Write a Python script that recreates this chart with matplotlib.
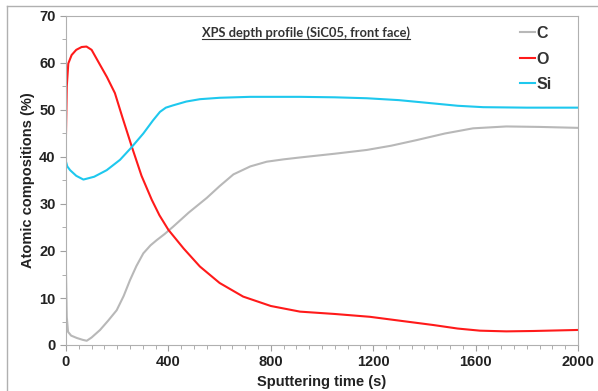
import matplotlib.pyplot as plt
from matplotlib.lines import Line2D
from matplotlib.ticker import MultipleLocator

# sputtering time (s) and atomic compositions (%) read from the profile
t_c = [0, 3, 8, 20, 42, 65, 81, 100, 133, 165, 198, 225, 250, 275, 302, 330, 354, 385, 419, 480, 550, 600, 654, 720, 784, 850, 914, 1050, 1175, 1270, 1370, 1480, 1590, 1720, 1850, 2000]
c_vals = [15.6, 6.0, 2.8, 2.0, 1.5, 1.1, 0.9, 1.6, 3.2, 5.2, 7.4, 10.4, 13.8, 16.8, 19.5, 21.2, 22.3, 23.6, 25.2, 28.2, 31.3, 33.8, 36.3, 38.0, 39.0, 39.5, 39.9, 40.7, 41.5, 42.4, 43.6, 45.0, 46.1, 46.5, 46.4, 46.2]

t_o = [0, 3, 9, 22, 40, 61, 80, 100, 133, 160, 191, 220, 257, 295, 335, 365, 400, 460, 523, 600, 692, 800, 914, 1050, 1187, 1300, 1435, 1530, 1617, 1720, 1825, 2000]
o_vals = [45.0, 55.0, 59.9, 61.7, 62.8, 63.4, 63.5, 62.8, 59.6, 57.0, 53.6, 48.5, 42.2, 36.0, 30.9, 27.6, 24.5, 20.5, 16.7, 13.2, 10.3, 8.3, 7.1, 6.6, 6.0, 5.2, 4.25, 3.5, 3.05, 2.9, 2.98, 3.2]

t_si = [0, 5, 16, 40, 68, 110, 159, 211, 255, 302, 340, 367, 390, 419, 470, 523, 600, 719, 914, 1050, 1175, 1300, 1435, 1530, 1630, 1800, 2000]
si_vals = [39.0, 38.0, 37.2, 36.0, 35.2, 35.8, 37.2, 39.4, 42.0, 45.0, 47.8, 49.6, 50.5, 51.0, 51.8, 52.3, 52.6, 52.8, 52.8, 52.7, 52.5, 52.1, 51.4, 50.9, 50.6, 50.5, 50.5]

series = [("C", t_c, c_vals, "#b8b8b8"), ("O", t_o, o_vals, "#ff1a1a"), ("Si", t_si, si_vals, "#1ec8ee")]

plt.rcParams['font.family'] = ['Liberation Sans', 'DejaVu Sans']
fig = plt.figure(figsize=(5.98, 3.91), dpi=100)
ax = fig.add_axes([66 / 598, 1 - 345 / 391, 512 / 598, 329 / 391])

for name, t, v, col in series:
    ax.plot(t, v, color=col, lw=1.5, label=name)

ax.set_xlim(0, 2000)
ax.set_ylim(0, 70)
ax.xaxis.set_major_locator(MultipleLocator(400))
ax.xaxis.set_minor_locator(MultipleLocator(50))
ax.yaxis.set_major_locator(MultipleLocator(10))
ax.yaxis.set_minor_locator(MultipleLocator(5))
ax.tick_params(which='both', direction='out', color='#a0a0a0', labelsize=10.5, labelcolor='#222222')
ax.tick_params(which='major', length=4)
ax.tick_params(which='minor', length=3)
for lab in ax.get_xticklabels() + ax.get_yticklabels():
    lab.set_fontweight('bold')
for sp in ax.spines.values():
    sp.set_color('#b0b0b0')

ax.set_xlabel("Sputtering time (s)", fontsize=10.5, fontweight='bold', color='#222222', labelpad=4)
ax.set_ylabel("Atomic compositions (%)", fontsize=10.5, fontweight='bold', color='#222222', labelpad=3)

title = ax.text(305.5 / 598, 1 - 33 / 391, "XPS depth profile (SiC05, front face)", transform=fig.transFigure,
                ha='center', va='center', fontsize=9.3, fontweight='bold', color='#333333',
                family=['Lato', 'DejaVu Sans'])
fig.canvas.draw()
bb = title.get_window_extent().transformed(fig.transFigure.inverted())
uy = 1 - 39 / 391
fig.add_artist(Line2D([bb.x0, bb.x1], [uy, uy], transform=fig.transFigure, color='#333333', lw=0.8))

leg = ax.legend(loc='upper left', bbox_to_anchor=(520 / 598, 1 - 26 / 391), bbox_transform=fig.transFigure,
                frameon=False, fontsize=11.5, handlelength=0.95, handletextpad=0.1, labelspacing=0.66,
                borderaxespad=0, borderpad=0)
for txt in leg.get_texts():
    txt.set_fontweight('bold')
    txt.set_color('#333333')

# outer frame of the original picture
fig.add_artist(Line2D([7 / 598, 7 / 598], [0, 1 - 6 / 391], transform=fig.transFigure, color='#b0b0b0', lw=1))
fig.add_artist(Line2D([7 / 598, 1], [1 - 6 / 391, 1 - 6 / 391], transform=fig.transFigure, color='#b0b0b0', lw=1))

fig.savefig("out.png", dpi=100)
